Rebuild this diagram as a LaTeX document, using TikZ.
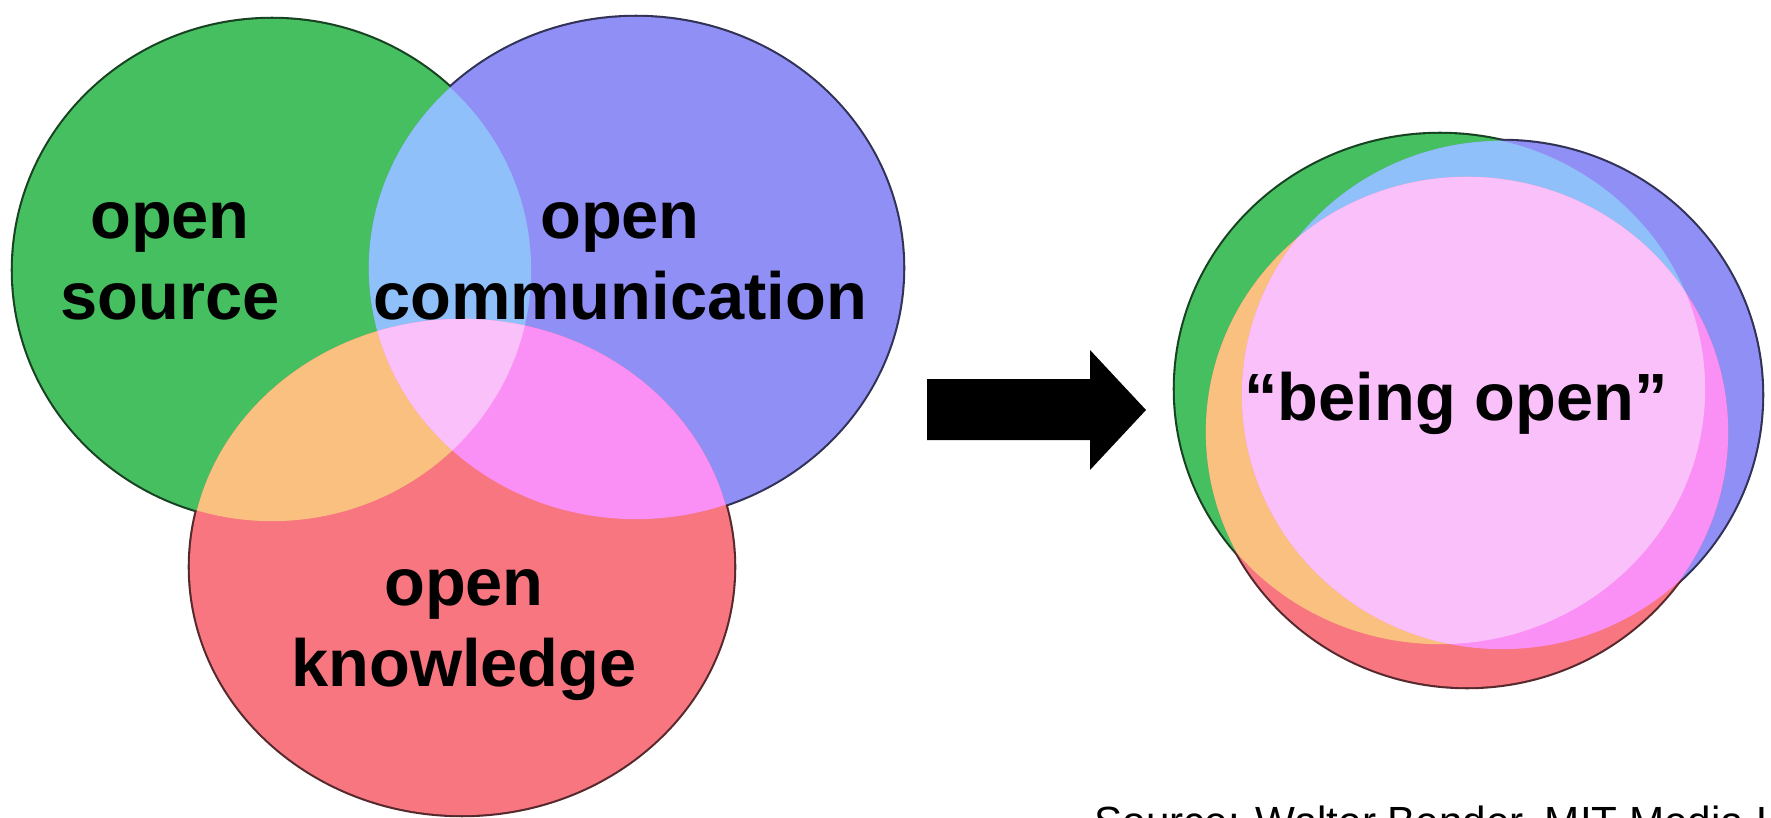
\documentclass[tikz,border=0pt]{standalone}
\usepackage{fontspec}
\setmainfont{Liberation Sans}
\definecolor{vgreen}{RGB}{70,191,96}
\definecolor{vblue}{RGB}{143,143,245}
\definecolor{vred}{RGB}{247,118,128}
\definecolor{vlblue}{RGB}{143,192,250}
\definecolor{vorange}{RGB}{250,192,128}
\definecolor{vmagenta}{RGB}{250,143,245}
\definecolor{vpink}{RGB}{250,192,250}

% three overlapping discs: #1 green, #2 blue, #3 red
\newcommand{\venndiscs}[3]{%
    \draw[rim, draw=vgreen!35!black] #1;
    \draw[rim, draw=vblue!35!black] #2;
    \draw[rim, draw=vred!35!black] #3;
    \fill[vgreen] #1;
    \fill[vblue] #2;
    \fill[vred] #3;
    \begin{scope}
        \clip #1;
        \fill[vlblue] #2;
        \fill[vorange] #3;
    \end{scope}
    \begin{scope}
        \clip #2;
        \fill[vmagenta] #3;
        \clip #1;
        \fill[vpink] #3;
    \end{scope}
}

\begin{document}
\begin{tikzpicture}[x=0.01cm,y=-0.01cm,
    rim/.style={line width=1.2pt},
    venntext/.style={font=\bfseries\fontsize{19}{23}\selectfont, align=center, inner sep=0pt}]
    \useasboundingbox (0,0) rectangle (1771,818);
    \fill[white] (0,0) rectangle (1771,818);

    % left: the three fields
    \venndiscs{(272,270) ellipse [x radius=2.59cm, y radius=2.51cm]}
              {(636,268) ellipse [x radius=2.67cm, y radius=2.51cm]}
              {(462,567) ellipse [x radius=2.72cm, y radius=2.48cm]}
    \node[venntext] (os) at (170,261) {open\\source};
    \node[venntext] (oc) at (620,261) {open\\communication};
    \node[venntext] (ok) at (464,635) {open\\knowledge};

    % the block arrow
    \fill[black] (927,379) -- (1090,379) -- (1090,350) -- (1146,410)
        -- (1090,470) -- (1090,440) -- (927,440) -- cycle;

    % right: merged
    \venndiscs{(1440,389) ellipse [x radius=2.65cm, y radius=2.55cm]}
              {(1502,395) ellipse [x radius=2.60cm, y radius=2.54cm]}
              {(1467,432) ellipse [x radius=2.61cm, y radius=2.55cm]}
    \node[venntext, anchor=base] (beingopen) at (1456,420) {“being open”};

    \node[font=\fontsize{12}{14}\selectfont, anchor=base west, inner sep=0pt]
        (credit) at (1094,836) {Source: Walter Bender, MIT Media Lab};
\end{tikzpicture}
\end{document}
